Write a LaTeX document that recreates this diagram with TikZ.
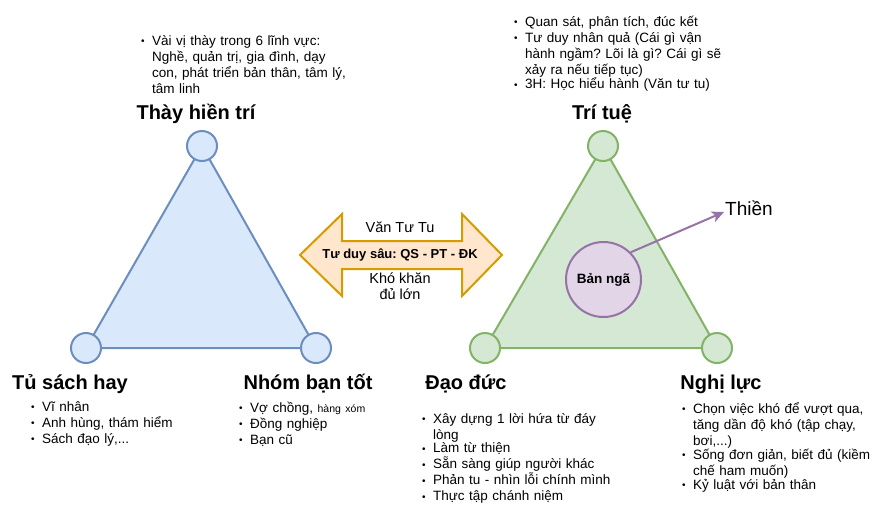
\documentclass[tikz,border=0pt]{standalone}
\usepackage{fontspec}
\setmainfont{Liberation Sans}
\usetikzlibrary{arrows.meta}
\frenchspacing
\definecolor{bluefill}{HTML}{DAE8FC}
\definecolor{bluedraw}{HTML}{6C8EBF}
\definecolor{greenfill}{HTML}{D5E8D4}
\definecolor{greendraw}{HTML}{82B366}
\definecolor{purpfill}{HTML}{E1D5E7}
\definecolor{purpdraw}{HTML}{9673A6}
\definecolor{orangefill}{HTML}{FFE6CC}
\definecolor{orangedraw}{HTML}{D79B00}
\tikzset{tri/.style = {line width=2pt, line join=round},
         vertex/.style = {circle, draw, line width=2pt, minimum size=30pt, inner sep=0pt},
         heading/.style = {anchor=base, inner sep=0pt, font=\bfseries\fontsize{20}{22}\selectfont},
         bullets/.style = {anchor=base west, text width=236pt, align=left, inner sep=0pt,
                           font=\fontsize{13.5}{16}\selectfont},
         plain/.style = {inner sep=0pt, align=center, font=\fontsize{14.5}{15.5}\selectfont}}
\newcommand{\itm}[1]{\noindent
  \makebox[11pt][l]{\raisebox{0.3pt}{\fontsize{10}{10}\selectfont\textbullet}}\parbox[t]{225pt}{#1}\par}

\begin{document}
\begin{tikzpicture}[x=1pt, y=-1pt]
    \fill [white] (0, 0) rectangle (876, 517);
    \useasboundingbox (0, 0) rectangle (876, 517);

    \coordinate (sageC) at (202, 146);
    \coordinate (booksC) at (86, 348);
    \coordinate (friendsC) at (316, 348);
    \coordinate (wisdomC) at (603, 146);
    \coordinate (ethicsC) at (485, 348);
    \coordinate (willC) at (717, 348);

    \filldraw [tri, fill=bluefill, draw=bluedraw] (sageC) -- (booksC) -- (friendsC) -- cycle;
    \filldraw [tri, fill=greenfill, draw=greendraw] (wisdomC) -- (ethicsC) -- (willC) -- cycle;

    \node [vertex, draw=bluedraw, fill=bluefill] (sage) at (sageC) {};
    \node [vertex, draw=bluedraw, fill=bluefill] (books) at (booksC) {};
    \node [vertex, draw=bluedraw, fill=bluefill] (friends) at (friendsC) {};
    \node [vertex, draw=greendraw, fill=greenfill] (wisdom) at (wisdomC) {};
    \node [vertex, draw=greendraw, fill=greenfill] (ethics) at (ethicsC) {};
    \node [vertex, draw=greendraw, fill=greenfill] (will) at (willC) {};

    \node [heading] (sageT) at (196, 119) {Thày hiền trí};
    \node [heading] (wisdomT) at (602, 119) {Trí tuệ};
    \node [heading] (booksT) at (70, 389) {Tủ sách hay};
    \node [heading] (friendsT) at (308, 389) {Nhóm bạn tốt};
    \node [heading] (ethicsT) at (466, 389) {Đạo đức};
    \node [heading] (willT) at (721, 389) {Nghị lực};

    \node [bullets] (sageL) at (141, 45) {\itm{Vài vị thày trong 6 lĩnh vực:\\Nghề, quản trị, gia đình, dạy\\con, phát triển bản thân, tâm lý,\\tâm linh}};
    \node [bullets] (wisdomL) at (514, 26) {\itm{Quan sát, phân tích, đúc kết}
      \itm{Tư duy nhân quả (Cái gì vận\\hành ngầm? Lõi là gì? Cái gì sẽ\\xảy ra nếu tiếp tục)}
      \itm{3H: Học hiểu hành (Văn tư tu)}};
    \node [bullets] (booksL) at (31, 411) {\itm{Vĩ nhân} \itm{Anh hùng, thám hiểm} \itm{Sách đạo lý,...}};
    \node [bullets] (friendsL) at (239, 412) {\itm{Vợ chồng, {\fontsize{10.5}{16}\selectfont hàng xóm}} \itm{Đồng nghiệp} \itm{Bạn cũ}};
    \node [bullets] (ethicsL) at (422, 423) {\itm{Xây dựng 1 lời hứa từ đáy\\lòng}
      \itm{Làm từ thiện} \itm{Sẵn sàng giúp người khác}
      \itm{Phản tu - nhìn lỗi chính mình} \itm{Thực tập chánh niệm}};
    \node [bullets] (willL) at (682, 413) {\itm{Chọn việc khó để vượt qua,\\tăng dần độ khó (tập chạy,\\bơi,...)}
      \itm{Sống đơn giản, biết đủ (kiềm\\chế ham muốn)}
      \itm{Kỷ luật với bản thân}};

    \draw [line width=2pt, line join=miter, fill=orangefill, draw=orangedraw]
      (300, 255) -- (342, 214) -- (342, 241) -- (462, 241) -- (462, 214) -- (502, 255)
      -- (462, 296) -- (462, 269) -- (342, 269) -- (342, 296) -- cycle;
    \node [plain] (study) at (400, 227) {Văn Tư Tu};
    \node [plain, font=\bfseries\fontsize{13}{14}\selectfont] (deep) at (400, 255) {Tư duy sâu: QS - PT - ĐK};
    \node [plain] (hard) at (400, 286) {Khó khăn\\đủ lớn};

    \node [circle, draw=purpdraw, fill=purpfill, line width=2pt, minimum size=75pt, inner sep=0pt,
           font=\bfseries\fontsize{13.5}{15}\selectfont] (ego) at (603.5, 279.5) {Bản ngã};
    \node [anchor=west, inner sep=1pt, font=\fontsize{19}{22}\selectfont] (zen) at (724, 208) {Thiền};
    \draw [line width=2pt, purpdraw, -{Stealth[length=12pt, width=11pt, inset=3pt]}]
      (ego.45) -- ([yshift=-4pt]zen.west);
\end{tikzpicture}
\end{document}
